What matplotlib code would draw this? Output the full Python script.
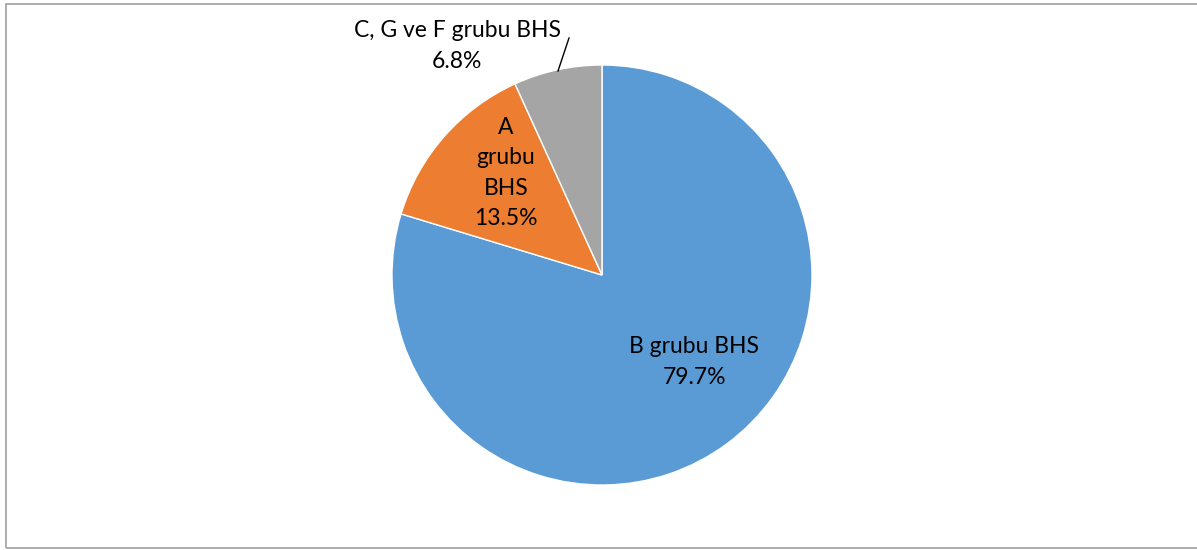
import matplotlib.pyplot as plt
from matplotlib.patches import Rectangle

labels = ['B grubu BHS', 'A\ngrubu\nBHS', 'C, G ve F grubu BHS']
values = [79.7, 13.5, 6.8]
colors = ['#5B9BD5', '#ED7D31', '#A5A5A5']

W, H = 1197, 550
fig = plt.figure(figsize=(W / 100, H / 100), dpi=100)
ax = fig.add_axes([0, 0, 1, 1])

# frame around chart area
fig.patches.append(Rectangle((6 / W, 2 / H), 1.2, (546 - 2) / H, transform=fig.transFigure,
                             fill=False, edgecolor='#A6A6A6', linewidth=1.3))

ax.pie(values, colors=colors, startangle=90, counterclock=False,
       center=(602, H - 275), radius=210, frame=True,
       wedgeprops=dict(edgecolor='white', linewidth=1))
ax.set_xlim(0, W)
ax.set_ylim(0, H)
ax.axis('off')

font = dict(fontsize=16.5, family='Lato', ha='center', va='center', color='black')
ax.text(694, H - 362, f'{labels[0]}\n{values[0]}%', linespacing=1.6, **font)
ax.text(506, H - 173, f'{labels[1]}\n{values[1]}%', linespacing=1.55, **font)
ax.text(457, H - 46, f'{labels[2]}\n{values[2]}%', linespacing=1.55, **font)
ax.plot([569, 558], [H - 38, H - 71], color='black', linewidth=1)

fig.savefig('out.png', dpi=100)
